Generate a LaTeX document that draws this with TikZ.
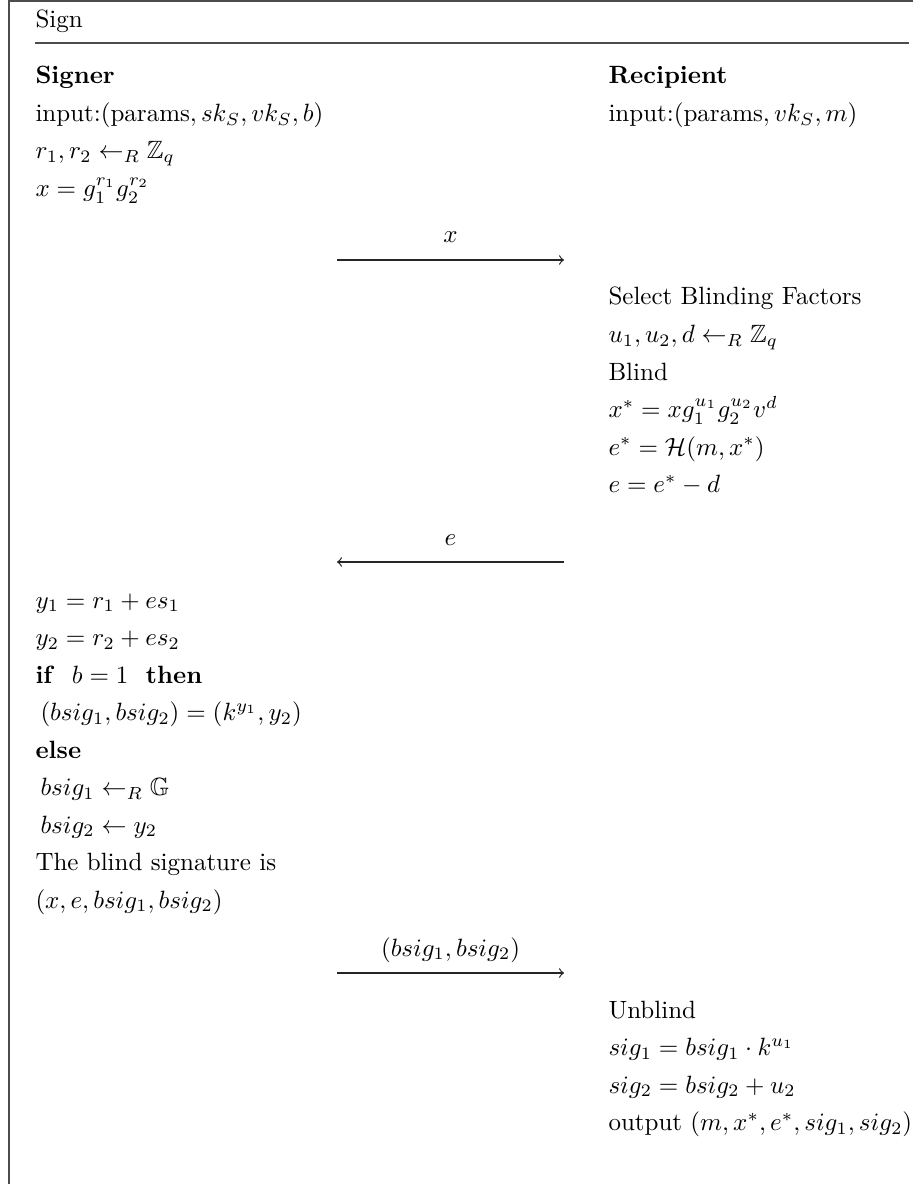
\documentclass[tikz,border=0pt]{standalone}
\usepackage{amsmath,amssymb}

\begin{document}
\begin{tikzpicture}[x=0.4pt,y=-0.4pt,>=to,
row/.style={anchor=base west,inner sep=0pt},
party/.style={row,font=\bfseries},
msglabel/.style={anchor=base,inner sep=0pt},
msg/.style={->,draw=black!85,line width=0.5pt},
frame/.style={draw=black!70,line width=0.6pt}]
\useasboundingbox (0,0) rectangle (913,1184);
% box and title
\draw[frame] (9,1184) -- (9,1) -- (913,1);
\node[row] (title) at (35,28) {Sign};
\draw[frame] (35,43) -- (909,43);
% parties
\node[party] (signer) at (35,84) {Signer};
\node[party] (recip) at (608,84) {Recipient};
\node[row] (sin) at (35,121.5) {input:$(\text{params}, sk_S, vk_S, b)$};
\node[row] (rin) at (608,121.5) {input:$(\text{params}, vk_S, m)$};
\node[row] (s1) at (35,159) {$r_1, r_2 \leftarrow_R \mathbb{Z}_q$};
\node[row] (s2) at (35,196.5) {$x = g_1^{r_1} g_2^{r_2}$};
% first message
\coordinate (m1a) at (337,260);
\coordinate (m1b) at (564,260);
\node[msglabel] (m1) at (450.5,243) {$x$};
\draw[msg] (m1a) -- (m1b);
% recipient blinds
\node[row] (r1) at (608,305) {Select Blinding Factors};
\node[row] (r2) at (608,342.5) {$u_1, u_2, d \leftarrow_R \mathbb{Z}_q$};
\node[row] (r3) at (608,380) {Blind};
\node[row] (r4) at (608,417.5) {$x^{*} = x g_1^{u_1} g_2^{u_2} v^{d}$};
\node[row] (r5) at (608,455) {$e^{*} = \mathcal{H}(m, x^{*})$};
\node[row] (r6) at (608,492.5) {$e = e^{*} - d$};
% challenge
\coordinate (m2a) at (564,562);
\coordinate (m2b) at (337,562);
\node[msglabel] (m2) at (450.5,545) {$e$};
\draw[msg] (m2a) -- (m2b);
% signer answers
\node[row] (s3) at (35,608) {$y_1 = r_1 + e s_1$};
\node[row] (s4) at (35,645.5) {$y_2 = r_2 + e s_2$};
\node[row] (s5) at (35,683) {\textbf{if}\hspace{7pt}$b = 1$\hspace{7pt}\textbf{then}};
\node[row] (s6) at (35,720.5) {\hspace{2pt}$(bsig_1, bsig_2) = (k^{y_1}, y_2)$};
\node[row] (s7) at (35,758) {\textbf{else}};
\node[row] (s8) at (35,795.5) {\hspace{2pt}$bsig_1 \leftarrow_R \mathbb{G}$};
\node[row] (s9) at (35,833) {\hspace{2pt}$bsig_2 \leftarrow y_2$};
\node[row] (s10) at (35,870.5) {The blind signature is};
\node[row] (s11) at (35,908) {$(x, e, bsig_1, bsig_2)$};
% blind signature
\coordinate (m3a) at (337,973);
\coordinate (m3b) at (564,973);
\node[msglabel] (m3) at (450.5,956) {$(bsig_1, bsig_2)$};
\draw[msg] (m3a) -- (m3b);
% recipient unblinds
\node[row] (r7) at (608,1018) {Unblind};
\node[row] (r8) at (608,1055.5) {$sig_1 = bsig_1 \cdot k^{u_1}$};
\node[row] (r9) at (608,1093) {$sig_2 = bsig_2 + u_2$};
\node[row] (r10) at (608,1130.5) {output $(m, x^{*}, e^{*}, sig_1, sig_2)$};
\end{tikzpicture}
\end{document}
